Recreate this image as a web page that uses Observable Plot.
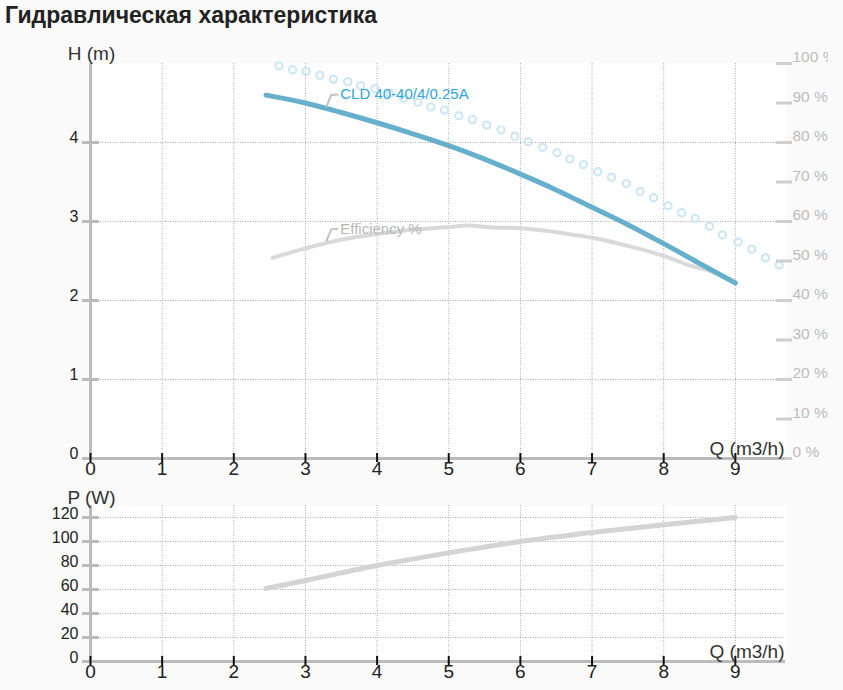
<!DOCTYPE html>
<html><head><meta charset="utf-8">
<script src="https://cdn.jsdelivr.net/npm/d3@7"></script>
<script src="https://cdn.jsdelivr.net/npm/@observablehq/plot@0.6"></script>
<style>
body{margin:0;background:#fafafa;font-family:"Liberation Sans",Arial,sans-serif;width:843px;height:690px;overflow:hidden}
#title{height:30px;line-height:30px;font-weight:bold;font-size:23px;color:#222;padding-left:5px;white-space:nowrap}
#chart{width:828px;overflow:hidden}
#chart svg{display:block;max-width:none !important;width:843px !important;height:auto}
</style></head><body>
<div id="title">Гидравлическая характеристика</div>
<div id="chart"></div>
<script>
// ---- data ----
const qTicks = [0, 1, 2, 3, 4, 5, 6, 7, 8, 9];
const qGrid = [1, 2, 3, 4, 5, 6, 7, 8, 9];
const hTicks = [0, 1, 2, 3, 4];
const hGrid = [1, 2, 3, 4];
const pctTicks = [0, 10, 20, 30, 40, 50, 60, 70, 80, 90, 100];
const pTicks = [0, 20, 40, 60, 80, 100, 120];
const pGrid = [20, 40, 60, 80, 100, 120];

const headQ = [2.45, 3, 3.5, 4, 4.5, 5, 5.5, 6, 6.5, 7, 7.5, 8, 8.5, 9];
const headH = [4.60, 4.50, 4.38, 4.25, 4.11, 3.96, 3.79, 3.60, 3.40, 3.18, 2.96, 2.72, 2.47, 2.22];

const effQ = [2.54, 3, 3.3, 3.63, 4, 4.42, 5, 5.26, 5.59, 6, 6.29, 6.75, 7, 7.59, 8, 8.34, 8.76, 9.0];
const effPct = [50.8, 53.2, 54.6, 55.8, 56.8, 57.8, 58.6, 59.0, 58.5, 58.3, 57.8, 56.6, 55.9, 53.4, 51.3, 49.0, 46.8, 44.8];

const dotQ = [2.63, 2.82, 3.01, 3.20, 3.39, 3.59, 3.77, 3.97, 4.18, 4.37, 4.57, 4.75, 4.94, 5.14, 5.33, 5.53, 5.73, 5.92, 6.11,
  6.31, 6.51, 6.69, 6.88, 7.08, 7.27, 7.48, 7.67, 7.86, 8.06, 8.25, 8.44, 8.64, 8.82, 9.04, 9.23, 9.42, 9.61];
const dotH = [4.97, 4.92, 4.90, 4.85, 4.80, 4.77, 4.72, 4.68, 4.62, 4.56, 4.51, 4.45, 4.41, 4.34, 4.29, 4.22, 4.16, 4.08, 4.01,
  3.94, 3.87, 3.79, 3.72, 3.63, 3.56, 3.48, 3.38, 3.30, 3.20, 3.11, 3.04, 2.94, 2.83, 2.74, 2.65, 2.54, 2.45];

const powerQ = [2.45, 3, 4, 5, 6, 7, 8, 9];
const powerW = [60.8, 67.5, 80, 90.5, 100, 107.5, 114, 120];

const labelText = ["CLD 40-40/4/0.25A", "Efficiency %"];
const labelQ = [3.29, 3.29];
const labelH = [4.43, 54.6 / 20];

// ---- config ----
const qDomain = [0, 9.7];
const hDomain = [0, 5];
const pDomain = [0, 130];
const pctPerMeter = 20;
const font = '"Liberation Sans", Arial, sans-serif';
const grid = {stroke: "#aaa", strokeDasharray: "1,1.5", strokeWidth: 1};
const axisGray = "#bbb";

const head = headQ.map((q, i) => ({q, h: headH[i]}));
const eff = effQ.map((q, i) => ({q, e: effPct[i]}));
const dots = dotQ.map((q, i) => ({q, h: dotH[i]}));
const power = powerQ.map((q, i) => ({q, p: powerW[i]}));
const labels = labelText.map((t, i) => ({t, q: labelQ[i], h: labelH[i], c: i === 0 ? "#2ea5db" : "#b8b8b8"}));

const leader = {
  draw(ctx) { ctx.moveTo(0, -1.5); ctx.lineTo(5, -13.5); ctx.lineTo(12, -14); }
};

function xAxisMarks() {
  return [
    Plot.ruleY([0], {stroke: axisGray, strokeWidth: 3}),
    Plot.ruleX(qTicks, {x: d => d, y1: 0, y2: 0, insetTop: -5, insetBottom: -4, stroke: "#111", strokeWidth: 2}),
    Plot.text(qTicks, {x: d => d, frameAnchor: "bottom", lineAnchor: "top", dy: 3, fontSize: 19, fill: "#222"}),
    Plot.text(["Q (m3/h)"], {frameAnchor: "bottom-right", textAnchor: "end", lineAnchor: "middle", dx: -1, dy: -10, fontSize: 19, fill: "#333"})
  ];
}

const plotStyle = {background: "transparent", fontFamily: font, overflow: "visible", maxWidth: "none"};

const topChart = Plot.plot({
  width: 843, height: 450,
  marginLeft: 90, marginRight: 58, marginTop: 33, marginBottom: 22,
  x: {domain: qDomain, axis: null},
  y: {domain: hDomain, axis: null},
  style: plotStyle,
  marks: [
    Plot.frame({fill: "white", stroke: "none"}),
    Plot.ruleX(qGrid, grid),
    Plot.ruleY(hGrid, grid),
    Plot.dot(dots, {x: "q", y: "h", r: 3.6, stroke: "#cde7f5", strokeWidth: 2.2, fill: "none"}),
    Plot.line(eff, {x: "q", y: d => d.e / pctPerMeter, stroke: "#d9d9d9", strokeWidth: 4, curve: "monotone-x"}),
    Plot.line(head, {x: "q", y: "h", stroke: "#67b0cd", strokeWidth: 5, curve: "monotone-x"}),
    Plot.dot(labels, {x: "q", y: "h", symbol: leader, r: 4, stroke: "#c2c2c2", strokeWidth: 2, fill: "none"}),
    Plot.text(labels, {x: "q", y: "h", text: "t", fill: "c", dx: 14, dy: -14, textAnchor: "start", fontSize: 15}),
    Plot.ruleX([0], {stroke: axisGray, strokeWidth: 3}),
    Plot.ruleY(hTicks, {y: d => d, x1: 0, x2: 0, insetLeft: -8, insetRight: -9, stroke: axisGray, strokeWidth: 3}),
    Plot.text(hTicks, {y: d => d, frameAnchor: "left", textAnchor: "end", dx: -12, dy: -4.5, fontSize: 16, fill: "#222"}),
    Plot.text(["H (m)"], {frameAnchor: "top-left", textAnchor: "middle", lineAnchor: "middle", dx: 1, dy: -10, fontSize: 19, fill: "#333"}),
    Plot.ruleY(pctTicks, {y: d => d / pctPerMeter, x1: qDomain[1], x2: qDomain[1], insetLeft: -9, insetRight: -7, stroke: "#cfcfcf", strokeWidth: 3}),
    Plot.text(pctTicks, {y: d => d / pctPerMeter, text: d => d + " %", frameAnchor: "right", textAnchor: "start", dx: 7, dy: -6, fontSize: 15.5, fill: "#bdbdbd"}),
    ...xAxisMarks()
  ]
});

const bottomChart = Plot.plot({
  width: 843, height: 210,
  marginLeft: 90, marginRight: 58, marginTop: 25, marginBottom: 29,
  x: {domain: qDomain, axis: null},
  y: {domain: pDomain, axis: null},
  style: plotStyle,
  marks: [
    Plot.frame({fill: "white", stroke: "none"}),
    Plot.ruleX(qGrid, grid),
    Plot.ruleY(pGrid, grid),
    Plot.line(power, {x: "q", y: "p", stroke: "#d4d4d4", strokeWidth: 5, curve: "monotone-x"}),
    Plot.ruleX([0], {stroke: axisGray, strokeWidth: 3}),
    Plot.ruleY(pTicks, {y: d => d, x1: 0, x2: 0, insetLeft: -8, insetRight: -9, stroke: axisGray, strokeWidth: 3}),
    Plot.text(pTicks, {y: d => d, frameAnchor: "left", textAnchor: "end", dx: -12, dy: -4, fontSize: 16, fill: "#222"}),
    Plot.text(["P (W)"], {frameAnchor: "top-left", textAnchor: "middle", lineAnchor: "middle", dx: 1, dy: -8, fontSize: 19, fill: "#333"}),
    ...xAxisMarks()
  ]
});

document.getElementById("chart").append(topChart, bottomChart);
</script></body></html>
